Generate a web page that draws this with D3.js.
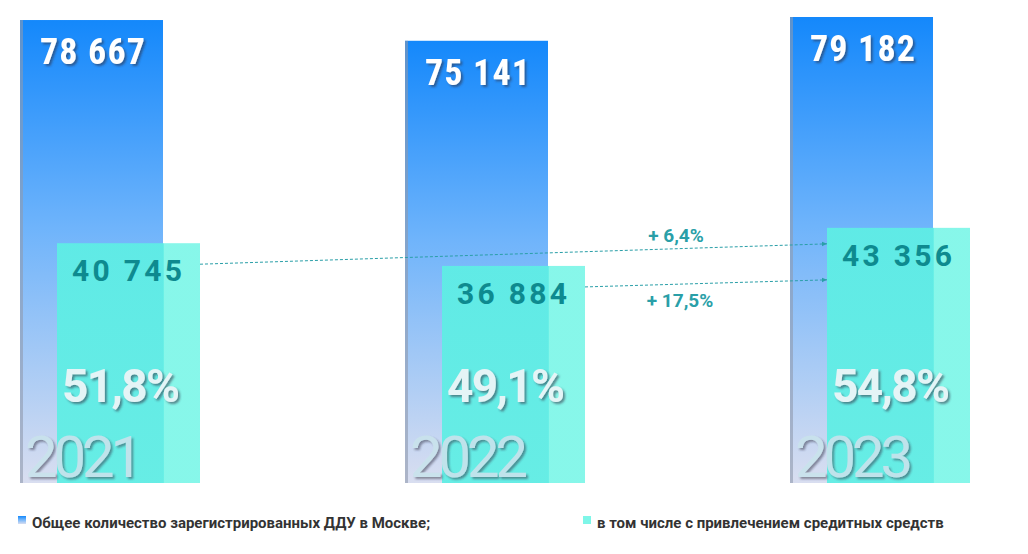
<!DOCTYPE html>
<html><head><meta charset="utf-8">
<script src="https://cdn.jsdelivr.net/npm/d3@7"></script>
<style>body{margin:0;background:#fff}</style>
</head><body>
<svg id="c" width="1028" height="554"></svg>
<script>
const years = ["2021", "2022", "2023"];
const totalDdu = [78667, 75141, 79182];
const creditDdu = [40745, 36884, 43356];
const shareLabels = ["51,8%", "49,1%", "54,8%"];
const growthLabels = ["+ 6,4%", "+ 17,5%"];
const legendLabels = ["Общее количество зарегистрированных ДДУ в Москве;", "в том числе с привлечением средитных средств"];

const fmt = v => d3.format(",")(v).replace(/,/g, " ");
const svg = d3.select("#c");
const defs = svg.append("defs");
const gb = defs.append("linearGradient").attr("id", "gb").attr("x1", 0).attr("y1", 0).attr("x2", 0).attr("y2", 1);
gb.append("stop").attr("offset", 0).attr("stop-color", "#1488fb");
gb.append("stop").attr("offset", 0.45).attr("stop-color", "#6fb4fb");
gb.append("stop").attr("offset", 1).attr("stop-color", "#d9def0");
const gc = defs.append("linearGradient").attr("id", "gc").attr("x1", 0).attr("y1", 0).attr("x2", 1).attr("y2", 0);
gc.append("stop").attr("offset", 0).attr("stop-color", "#5eeee4");
gc.append("stop").attr("offset", 0.75).attr("stop-color", "#5eeee4");
gc.append("stop").attr("offset", 0.75).attr("stop-color", "#7ef6e8");
gc.append("stop").attr("offset", 1).attr("stop-color", "#7ef6e8");
const sh = defs.append("filter").attr("id", "sh").attr("x", "-10%").attr("y", "-10%").attr("width", "130%").attr("height", "140%");
sh.append("feDropShadow").attr("dx", 2).attr("dy", 2).attr("stdDeviation", 1.2).attr("flood-color", "#334").attr("flood-opacity", 0.55);
const mk = defs.append("marker").attr("id", "ar").attr("viewBox", "0 0 10 10").attr("refX", 9).attr("refY", 5)
  .attr("markerWidth", 6).attr("markerHeight", 6).attr("orient", "auto");
mk.append("path").attr("d", "M0,1L9,5L0,9Z").attr("fill", "#2a9fa8");

const x = d3.scaleBand().domain(years).range([20, 1170]).paddingInner(0);
const step = 385;
const bx = i => 20 + i * step;
const bw = 143;
const y = d3.scaleLinear().domain([0, 79182]).range([483, 17]);

years.forEach((yr, i) => {
  const x0 = bx(i);
  svg.append("rect").attr("x", x0).attr("y", y(totalDdu[i])).attr("width", bw)
    .attr("height", y(0) - y(totalDdu[i])).attr("fill", "url(#gb)");
  svg.append("rect").attr("x", x0).attr("y", y(totalDdu[i])).attr("width", 3)
    .attr("height", y(0) - y(totalDdu[i])).attr("fill", "#8f9aae").attr("opacity", 0.6);
  svg.append("rect").attr("x", x0 + 37).attr("y", y(creditDdu[i])).attr("width", bw)
    .attr("height", y(0) - y(creditDdu[i])).attr("fill", "url(#gc)").attr("opacity", 0.93);
  svg.append("text").attr("x", x0 + 20).attr("y", y(totalDdu[i]) + 44).text(fmt(totalDdu[i]))
    .attr("font-family", "Roboto Condensed, Roboto, sans-serif").attr("font-weight", 700).attr("font-size", 36)
    .attr("fill", "#fff").attr("filter", "url(#sh)").attr("textLength", 105);
  svg.append("text").attr("x", x0 + 52).attr("y", y(creditDdu[i]) + 38).text(fmt(creditDdu[i]))
    .attr("font-family", "Roboto, sans-serif").attr("font-weight", 700).attr("font-size", 30)
    .attr("fill", "#0e8a8f").attr("textLength", 110);
  svg.append("text").attr("x", x0 + 42).attr("y", 402).text(shareLabels[i])
    .attr("font-family", "Roboto, sans-serif").attr("font-weight", 700).attr("font-size", 46)
    .attr("fill", "#e4f4f6").attr("filter", "url(#sh)").attr("textLength", 118);
  svg.append("text").attr("x", x0 + 5).attr("y", 477).text(yr)
    .attr("font-family", "Roboto, sans-serif").attr("font-size", 58)
    .attr("fill", "#c9e3ec").attr("filter", "url(#sh)").attr("opacity", 0.9).attr("textLength", 118);
});

// growth arrows
const arrows = [
  {from: [bx(0) + 37 + bw, y(creditDdu[0]) + 21], to: [bx(2) + 37, y(creditDdu[2]) + 16], lx: 676, ly: 242},
  {from: [bx(1) + 37 + bw, y(creditDdu[1]) + 21], to: [bx(2) + 37, y(creditDdu[2]) + 52], lx: 680, ly: 307}
];
arrows.forEach((a, i) => {
  svg.append("line").attr("x1", a.from[0]).attr("y1", a.from[1]).attr("x2", a.to[0]).attr("y2", a.to[1])
    .attr("stroke", "#2a9fa8").attr("stroke-width", 1).attr("stroke-dasharray", "3,2").attr("marker-end", "url(#ar)");
  svg.append("text").attr("x", a.lx).attr("y", a.ly).attr("text-anchor", "middle").text(growthLabels[i])
    .attr("font-family", "Roboto, sans-serif").attr("font-weight", 700).attr("font-size", 19).attr("fill", "#2a9fa8");
});

// legend
const lg = [{x: 18, fill: "url(#gb)"}, {x: 583, fill: "#7ef6e8"}];
legendLabels.forEach((t, i) => {
  svg.append("rect").attr("x", lg[i].x).attr("y", 516).attr("width", 8).attr("height", 8).attr("fill", lg[i].fill);
  svg.append("text").attr("x", lg[i].x + 14).attr("y", 528).text(t)
    .attr("font-family", "Roboto, sans-serif").attr("font-weight", 700).attr("font-size", 15).attr("fill", "#333");
});
</script>
</body></html>
